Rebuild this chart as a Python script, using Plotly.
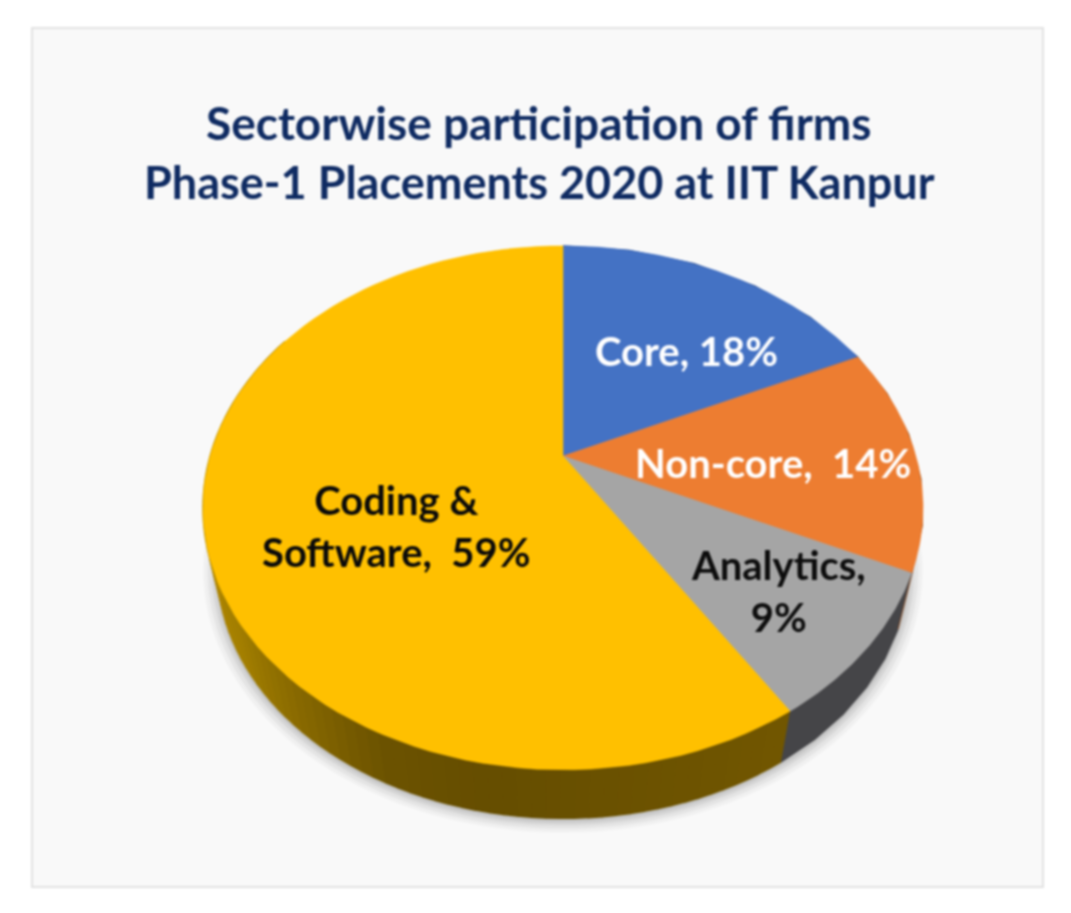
import numpy as np
import plotly.graph_objects as go

# ---- data ----
categories = ["Core", "Non-core", "Analytics", "Coding & Software"]
values = [18, 14, 9, 59]
labels = ["Core, 18%", "Non-core,  14%", "Analytics,<br>9%", "Coding &<br>Software,  59%"]
title_lines = ["Sectorwise participation of firms", "Phase-1 Placements 2020 at IIT Kanpur"]

# ---- styles ----
top_colors = ["#4472C4", "#ED7D31", "#A5A5A5", "#FFC000"]
wall_colors = ["#2A4A85", "#8F4A1A", "#454548", None]
label_colors = ["#FFFFFF", "#FFFFFF", "#0D0D0D", "#0A0A0A"]
label_pos = [(686, 351), (773, 463), (778, 591), (396, 526)]
gold_stops = [(147.6, (0x72, 0x57, 0x00)), (190, (0x66, 0x4E, 0x00)),
              (205, (0x6C, 0x53, 0x00)), (220, (0x88, 0x69, 0x00)),
              (235, (0xA2, 0x7E, 0x00)), (260, (0xB8, 0x8C, 0x00))]
TEXT = "Lato"

# ---- tilted-disc projection (pixel-scaled hidden axes) ----
CX, CY, R, A, K = 563, 456, 352.9, 251.7, 0.198
S, OFF = 0.96, 61


def rim(theta_deg, scale=1.0, off=0.0):
    t = np.radians(theta_deg)
    u, v = np.sin(t), np.cos(t)
    w = 1 + K * v
    return CX + scale * R * u / w, CY + off - scale * A * v / w


def wall_band(t0, t1, color):
    th = np.linspace(t0, t1, 6)
    x1, y1 = rim(th)
    x2, y2 = rim(th[::-1], S, OFF)
    fig.add_trace(go.Scatter(x=np.r_[x1, x2], y=np.r_[y1, y2], mode="lines", fill="toself",
                             fillcolor=color, line=dict(color=color, width=1.5),
                             hoverinfo="skip", showlegend=False))


fig = go.Figure()

# soft shadow below the disc
for grow, alpha in [(1.04, 0.06), (1.028, 0.09), (1.016, 0.12), (1.006, 0.15)]:
    th = np.linspace(0, 360, 241)
    x, y = rim(th, S * grow, OFF + 2)
    fig.add_trace(go.Scatter(x=x, y=y, mode="lines", fill="toself",
                             fillcolor=f"rgba(110,110,110,{alpha})", line=dict(width=0),
                             hoverinfo="skip", showlegend=False))

edges = np.r_[0, np.cumsum(values)] * 3.6

# side walls
for i in range(3):
    wall_band(edges[i], edges[i + 1], wall_colors[i])
gold_th = np.linspace(edges[3], 300, 80)
stop_t = [s[0] for s in gold_stops]
for a, b in zip(gold_th[:-1], gold_th[1:]):
    m = (a + b) / 2
    rgb = [int(np.interp(m, stop_t, [s[1][c] for s in gold_stops])) for c in range(3)]
    wall_band(a, b, "rgb(%d,%d,%d)" % tuple(rgb))

# top faces
for i, cat in enumerate(categories):
    th = np.linspace(edges[i], edges[i + 1], 90)
    x, y = rim(th)
    fig.add_trace(go.Scatter(x=np.r_[CX, x, CX], y=np.r_[CY, y, CY], mode="lines", fill="toself",
                             fillcolor=top_colors[i], line=dict(color=top_colors[i], width=0.5),
                             name=cat, hovertemplate=f"{cat}: {values[i]}%<extra></extra>",
                             showlegend=False))

annotations = [dict(x=px, y=py, text=f"<b>{t}</b>", showarrow=False, xref="x", yref="y",
                    font=dict(family=TEXT, size=40, color=c), align="center")
               for t, (px, py), c in zip(labels, label_pos, label_colors)]
for line, py, size in zip(title_lines, (122, 182), (46, 45)):
    annotations.append(dict(x=539, y=py, text=f"<b>{line}</b>", showarrow=False, xref="x", yref="y",
                            font=dict(family=TEXT, size=size, color="#0F2B62"), align="center"))

fig.update_layout(
    width=1071, height=913, margin=dict(l=0, r=0, t=0, b=0),
    paper_bgcolor="#FFFFFF", plot_bgcolor="#FFFFFF", showlegend=False,
    xaxis=dict(range=[0, 1071], visible=False, fixedrange=True),
    yaxis=dict(range=[913, 0], visible=False, fixedrange=True),
    annotations=annotations,
    shapes=[dict(type="rect", x0=32, y0=28, x1=1043, y1=887, xref="x", yref="y", layer="below",
                 fillcolor="#F9F9F9", line=dict(color="#E2E2E2", width=2))],
)
fig.write_html("out.html", config=dict(displayModeBar=False),
               post_script="document.body.style.margin='0';document.body.style.filter='blur(1px)';")
